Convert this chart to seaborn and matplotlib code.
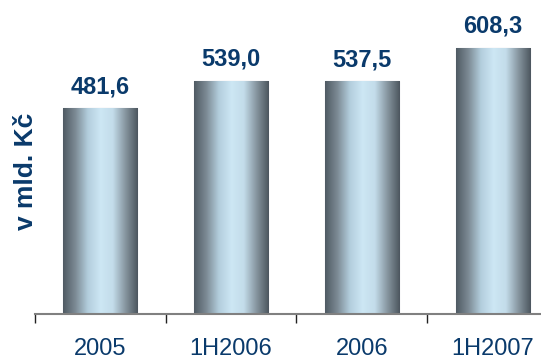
import numpy as np
import pandas as pd
import matplotlib
matplotlib.use('Agg')
import matplotlib.pyplot as plt
import seaborn as sns
from matplotlib.colors import LinearSegmentedColormap

periods = ['2005', '1H2006', '2006', '1H2007']
values = [481.6, 539.0, 537.5, 608.3]
value_labels = ['481,6', '539,0', '537,5', '608,3']

df = pd.DataFrame({'period': periods, 'value': values})

sns.set_style('white')
plt.rcParams['font.family'] = ['Liberation Sans', 'DejaVu Sans']

text_blue = '#0a3a6b'
bar_cmap = LinearSegmentedColormap.from_list(
    'cyl', ['#4f5a63', '#7d8b95', '#b3cedd', '#cde7f4', '#c3dcea', '#8796a0', '#4c565e'])

fig = plt.figure(figsize=(5.41, 3.6), dpi=100)
ax = fig.add_axes([35 / 541, 46 / 360, 1 - 35 / 541, 1 - 46 / 360])

ymin, ymax = 50, 708
sns.barplot(data=df, x='period', y='value', ax=ax, width=0.566,
            color='#9fb3bf', edgecolor='#9aa3a8', linewidth=0.8)

# cylinder-like horizontal gradient inside each bar
grad = np.linspace(0, 1, 256).reshape(1, -1)
for p in ax.patches:
    x0, y0 = p.get_x(), max(p.get_y(), ymin)
    w, top = p.get_width(), p.get_y() + p.get_height()
    im = ax.imshow(grad, cmap=bar_cmap, aspect='auto',
                   extent=[x0, x0 + w, y0, top], zorder=p.get_zorder())
    im.set_clip_path(p)

ax.set_xlim(-0.5, 3.37)
ax.set_ylim(ymin, ymax)

for i, (v, lab) in enumerate(zip(values, value_labels)):
    ax.text(i, v + 21, lab, ha='center', va='bottom', fontsize=17,
            fontweight='bold', color=text_blue)

for s in ['top', 'right', 'left']:
    ax.spines[s].set_visible(False)
ax.spines['bottom'].set_color('#808080')
ax.spines['bottom'].set_linewidth(1.5)
ax.spines['bottom'].set_zorder(5)

ax.set_yticks([])
ax.set_xticks([-0.5, 0.5, 1.5, 2.5])
ax.set_xticklabels([])
ax.tick_params(axis='x', which='major', direction='out', length=6.5,
               width=1, color='#222222', bottom=True)
ax.set_xticks(range(len(periods)), minor=True)
ax.set_xticklabels(periods, minor=True)
ax.tick_params(axis='x', which='minor', length=0, pad=17, labelsize=17,
               labelcolor=text_blue)

ax.set_xlabel('')
ax.set_ylabel('v mld. Kč', fontsize=19, fontweight='bold', color=text_blue)
ax.yaxis.set_label_coords(0.006, 0.454)

fig.savefig('out.png', dpi=100)
